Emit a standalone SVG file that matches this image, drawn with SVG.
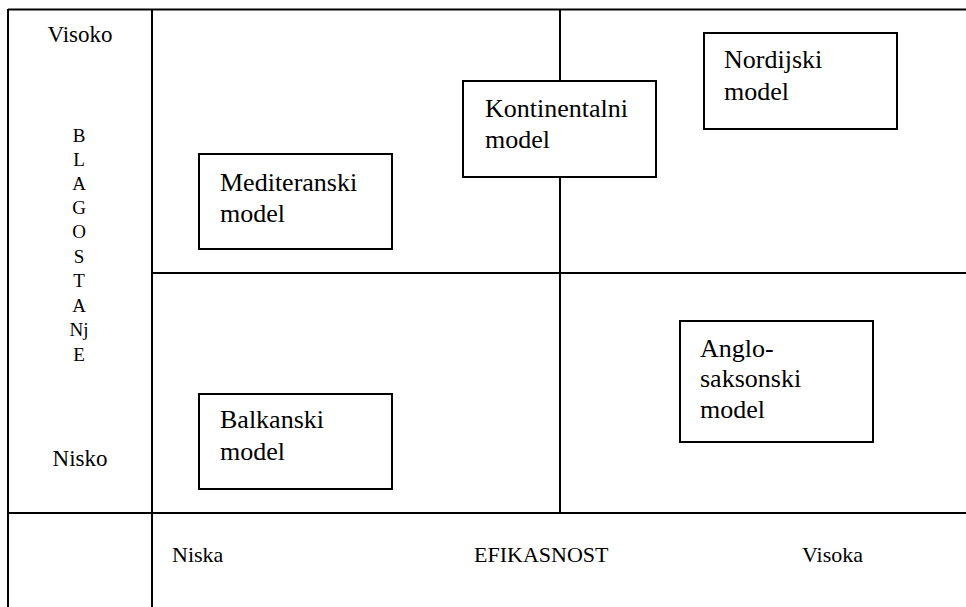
<svg xmlns="http://www.w3.org/2000/svg" width="966" height="607" viewBox="0 0 966 607">
<style>
.ln{stroke:#000;stroke-width:2;fill:none}
.box{fill:#fff;stroke:#000;stroke-width:2}
text{font-family:"Times New Roman","Liberation Serif","DejaVu Serif",serif;fill:#000}
.t{font-size:26px}
.ax{font-size:23px}
.ax2{font-size:22px}
.v{font-size:19px;text-anchor:middle}
</style>
<rect width="966" height="607" fill="#fff"/>
<g id="connectors">
<line class="ln" x1="8" y1="9.5" x2="966" y2="9.5"/>
<line class="ln" x1="8" y1="9" x2="8" y2="607"/>
<line class="ln" x1="152" y1="9" x2="152" y2="607"/>
<line class="ln" x1="8" y1="513" x2="966" y2="513"/>
<line class="ln" x1="152" y1="273" x2="966" y2="273"/>
<line class="ln" x1="560" y1="9" x2="560" y2="513"/>
</g>
<g id="axis-y">
<text class="ax" x="80" y="42" text-anchor="middle">Visoko</text>
<text class="ax" x="80" y="466" text-anchor="middle">Nisko</text>
<text class="v" x="79" y="142">B</text>
<text class="v" x="79" y="166">L</text>
<text class="v" x="79" y="190">A</text>
<text class="v" x="79" y="214">G</text>
<text class="v" x="79" y="238">O</text>
<text class="v" x="79" y="263">S</text>
<text class="v" x="79" y="287">T</text>
<text class="v" x="79" y="312">A</text>
<text class="v" x="79" y="336">Nj</text>
<text class="v" x="79" y="361">E</text>
</g>
<g id="axis-x">
<text class="ax2" x="172" y="562">Niska</text>
<text class="ax2" x="474" y="562">EFIKASNOST</text>
<text class="ax2" x="802" y="562">Visoka</text>
</g>
<g id="mediteranski">
<rect class="box" x="199" y="154" width="193" height="95"/>
<text class="t" x="220" y="191">Mediteranski</text>
<text class="t" x="220" y="222">model</text>
</g>
<g id="kontinentalni">
<rect class="box" x="463" y="81" width="193" height="96"/>
<text class="t" x="485" y="117">Kontinentalni</text>
<text class="t" x="485" y="148">model</text>
</g>
<g id="nordijski">
<rect class="box" x="704" y="33" width="193" height="96"/>
<text class="t" x="724" y="68">Nordijski</text>
<text class="t" x="724" y="100">model</text>
</g>
<g id="balkanski">
<rect class="box" x="199" y="394" width="193" height="95"/>
<text class="t" x="220" y="428">Balkanski</text>
<text class="t" x="220" y="460">model</text>
</g>
<g id="anglosaksonski">
<rect class="box" x="680" y="321" width="193" height="121"/>
<text class="t" x="700" y="357">Anglo-</text>
<text class="t" x="700" y="387">saksonski</text>
<text class="t" x="700" y="418">model</text>
</g>
</svg>
